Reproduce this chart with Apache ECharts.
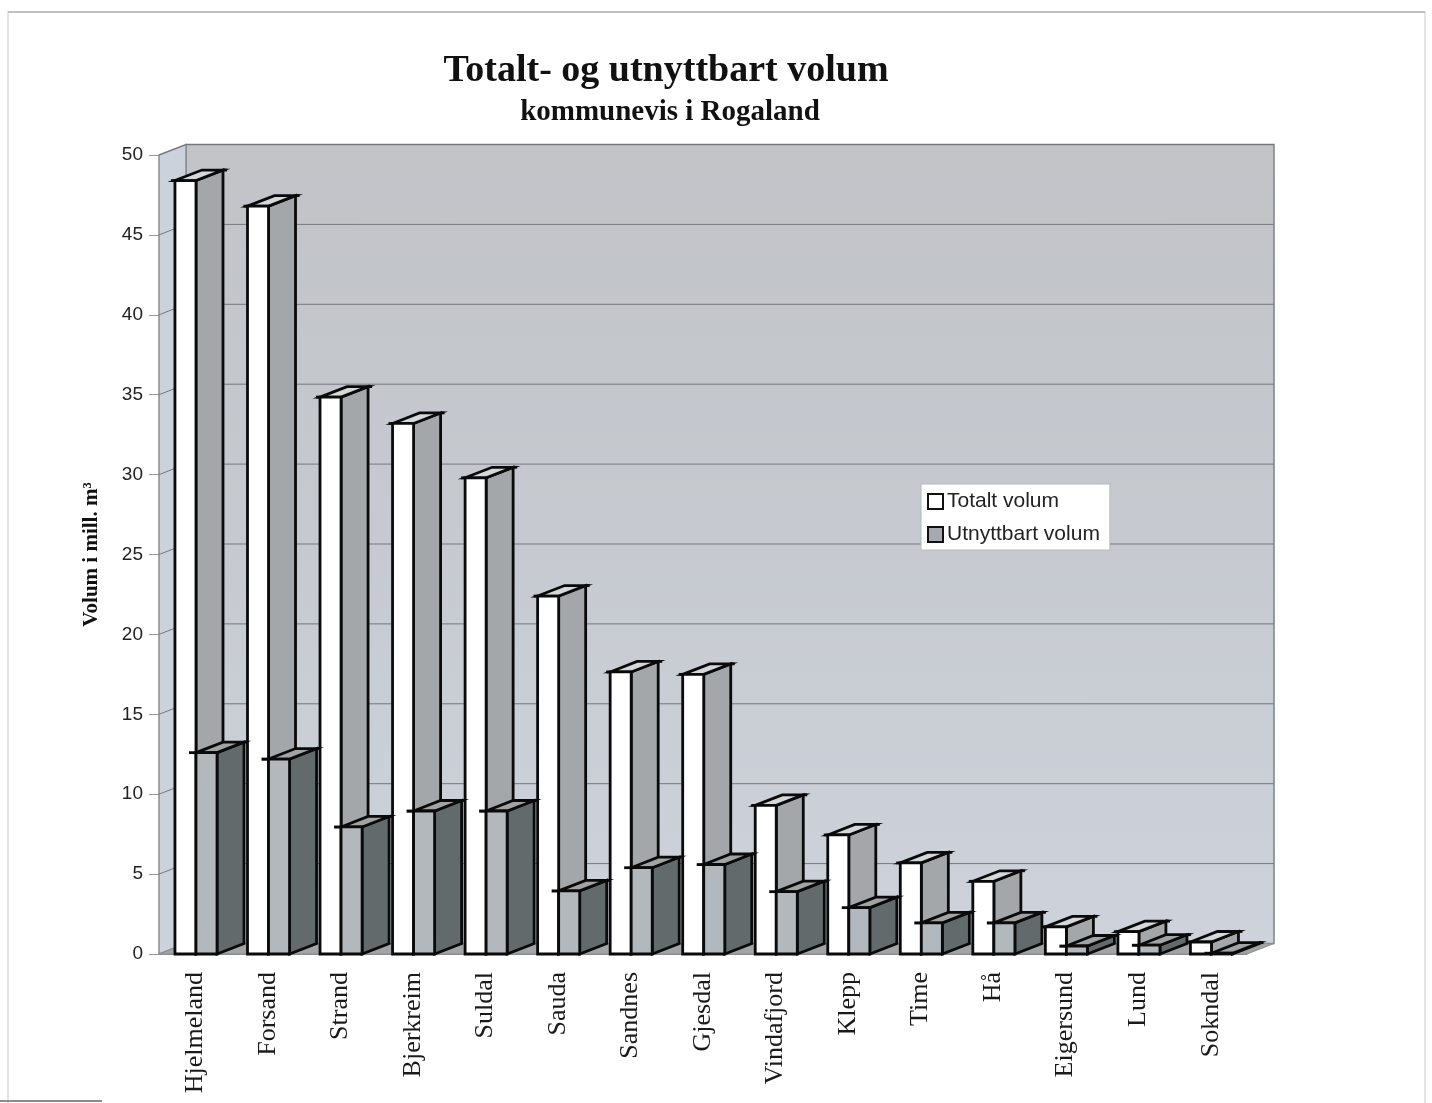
<!DOCTYPE html>
<html><head><meta charset="utf-8">
<style>html,body{margin:0;padding:0;background:#fff}#c{width:1432px;height:1103px}</style>
<script src="https://cdn.jsdelivr.net/npm/echarts@6/dist/echarts.min.js"></script>
</head><body><div id="c"></div>
<script>
const categories = ['Hjelmeland','Forsand','Strand','Bjerkreim','Suldal','Sauda','Sandnes','Gjesdal','Vindafjord','Klepp','Time','Hå','Eigersund','Lund','Sokndal'];
const totaltVolum = [48.4,46.8,34.85,33.2,29.8,22.4,17.65,17.5,9.3,7.45,5.7,4.55,1.7,1.4,0.75];
const utnyttbartVolum = [12.6,12.2,7.95,8.95,8.95,3.95,5.4,5.6,3.9,2.9,1.95,1.95,0.5,0.55,0.05];
const yTicks = [0,5,10,15,20,25,30,35,40,45,50];
const DX = 27, DY = 10.5;
const chart = echarts.init(document.getElementById('c'));

function wallsItem(params, api){
  const cs = params.coordSys, L = cs.x, R = cs.x + cs.width, T = cs.y, B = cs.y + cs.height;
  return {type:'group', children:[
    {type:'polygon', shape:{points:[[L+DX,T-DY],[R+DX,T-DY],[R+DX,B-DY],[L+DX,B-DY]]},
      style:{fill:new echarts.graphic.LinearGradient(0,0,0,1,[{offset:0,color:'#c1c3c7'},{offset:0.5,color:'#c6cad0'},{offset:1,color:'#ced3db'}]),stroke:'#7d8084',lineWidth:1.5}},
    {type:'polygon', shape:{points:[[L,T],[L+DX,T-DY],[L+DX,B-DY],[L,B]]},
      style:{fill:'#cbd2dc',stroke:'#8a8d91',lineWidth:1.5}},
    {type:'polygon', shape:{points:[[L,B],[L+DX,B-DY],[R+DX,B-DY],[R,B]]},
      style:{fill:'#a2a4a6',stroke:'#8a8d91',lineWidth:1}}
  ]};
}
function gridItem(params, api){
  const cs = params.coordSys, L = cs.x, R = cs.x + cs.width;
  const y = api.coord([0, api.value(1)])[1];
  return {type:'group', children:[
    {type:'polyline', shape:{points:[[L,y],[L+DX,y-DY],[R+DX,y-DY]]}, style:{fill:'none',stroke:'#74787c',lineWidth:1}}
  ]};
}
function barItem(offset, front, side, top){
  return function(params, api){
    const idx = api.value(0), band = api.size([1,0])[0];
    const c = api.coord([idx, api.value(1)]), base = api.coord([idx, 0]);
    const x0 = c[0] - band/2 + band*offset, x1 = x0 + band*0.29, y = c[1], b = base[1];
    const ln = {stroke:'#0a0a0a', lineWidth:2.8, lineJoin:'miter'};
    const over = offset > 0.3 ? 7 : 4;
    return {type:'group', children:[
      {type:'polygon', shape:{points:[[x1,y],[x1+DX,y-DY],[x1+DX,b-DY],[x1,b]]}, style:Object.assign({fill:side},ln)},
      {type:'polygon', shape:{points:[[x0,y],[x0+DX,y-DY],[x1+DX,y-DY],[x1,y]]}, style:Object.assign({fill:top},ln)},
      {type:'rect', shape:{x:x0,y:y,width:x1-x0,height:b-y}, style:Object.assign({fill:front},ln)},
      {type:'line', shape:{x1:x0-over,y1:y,x2:x0,y2:y}, style:{stroke:'#0a0a0a',lineWidth:2.8}},
      {type:'line', shape:{x1:x1+DX,y1:y-DY,x2:x1+DX+4,y2:y-DY}, style:{stroke:'#0a0a0a',lineWidth:2.8}}
    ]};
  };
}
const serif = '"Liberation Serif", serif', sans = '"Liberation Sans", Arial, sans-serif';
chart.setOption({
  animation:false,
  backgroundColor:'#fff',
  title:[
    {text:'Totalt- og utnyttbart volum',left:661,top:47,textAlign:'center',textStyle:{fontFamily:serif,fontWeight:'bold',fontSize:38,color:'#111'}},
    {text:'kommunevis i Rogaland',left:665,top:93,textAlign:'center',textStyle:{fontFamily:serif,fontWeight:'bold',fontSize:29,color:'#111'}}
  ],
  graphic:[
    {type:'rect',z:-1,shape:{x:8,y:12,width:1417,height:1100},style:{fill:'none',stroke:'#dcdcdc',lineWidth:1.5}},
    {type:'line',z:-1,shape:{x1:8,y1:12,x2:1425,y2:12},style:{stroke:'#b4b4b4',lineWidth:1.5}},
    {type:'line',z:-1,shape:{x1:0,y1:1101,x2:102,y2:1101},style:{stroke:'#8c8c8c',lineWidth:2}}
  ],
  legend:{
    orient:'vertical',left:921,top:484,padding:[7,10,5,6],itemGap:12,itemWidth:15,itemHeight:15,icon:'rect',
    backgroundColor:'#ffffff',borderColor:'#b4bac0',borderWidth:1,
    data:['Totalt volum','Utnyttbart volum'],selectedMode:false,
    textStyle:{fontFamily:sans,fontSize:21,color:'#222',padding:[0,0,0,-1]}
  },
  grid:{left:159,right:185,top:155,bottom:149},
  xAxis:{type:'category',data:categories,boundaryGap:true,
    axisLine:{lineStyle:{color:'#8a8d91'}},
    axisTick:{alignWithLabel:false,length:11,lineStyle:{color:'#b8b8b8'}},
    axisLabel:{rotate:90,margin:18,interval:0,fontFamily:serif,fontSize:26,color:'#1a1a1a'},
    splitLine:{show:false}},
  yAxis:{type:'value',min:0,max:50,interval:5,
    name:'Volum i mill. m³',nameLocation:'middle',nameGap:57,nameRotate:90,
    nameTextStyle:{fontFamily:serif,fontWeight:'bold',fontSize:21,color:'#111'},
    axisLine:{show:true,lineStyle:{color:'#8a8d91'}},
    axisTick:{show:true,length:10,lineStyle:{color:'#999'}},
    axisLabel:{margin:16,fontFamily:sans,fontSize:19,color:'#222'},
    splitLine:{show:false}},
  series:[
    {type:'custom',name:'walls',silent:true,z:1,clip:false,data:[[0,0]],renderItem:wallsItem},
    {type:'custom',name:'grid',silent:true,z:1,clip:false,data:yTicks.slice(1).map(v=>[0,v]),renderItem:gridItem},
    {type:'custom',name:'Totalt volum',z:3,clip:false,itemStyle:{color:'#ffffff',borderColor:'#111',borderWidth:2.5},
      data:totaltVolum.map((v,i)=>[i,v]),encode:{x:0,y:1},renderItem:barItem(0.22,'#ffffff','#a3a7aa','#d5d8d8')},
    {type:'custom',name:'Utnyttbart volum',z:4,clip:false,itemStyle:{color:'#a6aaae',borderColor:'#111',borderWidth:2.5},
      data:utnyttbartVolum.map((v,i)=>[i,v]),encode:{x:0,y:1},renderItem:barItem(0.51,'#b3b8bd','#636a6c','#a2a4a4')}
  ]
});
</script></body></html>
